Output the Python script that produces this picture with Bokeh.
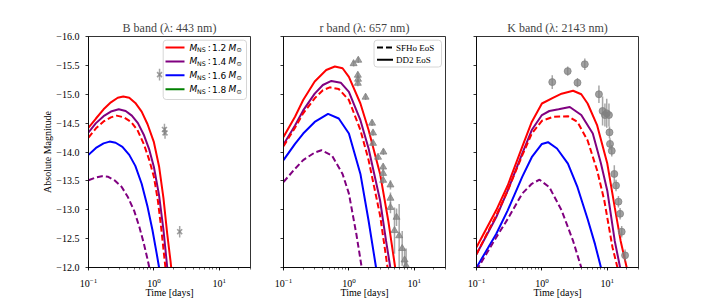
import numpy as np
from bokeh.plotting import figure
from bokeh.layouts import row
from bokeh.models import (Range1d, FixedTicker, LogTicker, CustomJSTickFormatter,
                          BoxAnnotation, Arrow, Label)
from bokeh.embed import file_html
from bokeh.resources import INLINE

# ---------------- data ----------------
TITLES = ["B band (λ: 443 nm)", "r band (λ: 657 nm)", "K band (λ: 2143 nm)"]
Y_TICKS = [-16.0, -15.5, -15.0, -14.5, -14.0, -13.5, -13.0, -12.5, -12.0]

# B band
B_DD2_12_T = [0.1, 0.13, 0.17, 0.22, 0.28, 0.34, 0.42, 0.52, 0.65, 0.8, 1.0, 1.2, 1.4, 1.6, 1.8, 2.0]
B_DD2_12_M = [-14.42, -14.58, -14.74, -14.86, -14.94, -14.96, -14.94, -14.85, -14.70, -14.48, -14.17, -13.75, -13.20, -12.58, -12.10, -11.60]
B_DD2_14_T = [0.1, 0.13, 0.17, 0.22, 0.29, 0.37, 0.46, 0.57, 0.7, 0.85, 1.0, 1.2, 1.4, 1.6, 1.75]
B_DD2_14_M = [-14.34, -14.50, -14.62, -14.70, -14.74, -14.71, -14.63, -14.50, -14.30, -14.04, -13.74, -13.25, -12.65, -12.00, -11.50]
B_DD2_16_T = [0.1, 0.13, 0.17, 0.21, 0.26, 0.33, 0.42, 0.52, 0.65, 0.8, 0.95, 1.1, 1.2, 1.3]
B_DD2_16_M = [-13.95, -14.07, -14.15, -14.18, -14.16, -14.09, -13.95, -13.76, -13.45, -13.05, -12.65, -12.25, -12.00, -11.70]
B_SFHO_12_T = [0.1, 0.13, 0.17, 0.22, 0.27, 0.35, 0.45, 0.56, 0.7, 0.85, 1.0, 1.15, 1.3, 1.5, 1.65]
B_SFHO_12_M = [-14.25, -14.41, -14.53, -14.60, -14.63, -14.60, -14.52, -14.38, -14.14, -13.86, -13.57, -13.16, -12.66, -12.00, -11.50]
B_SFHO_14_T = [0.1, 0.13, 0.16, 0.2, 0.25, 0.32, 0.4, 0.5, 0.6, 0.7, 0.8, 0.87, 0.95]
B_SFHO_14_M = [-13.51, -13.56, -13.58, -13.57, -13.51, -13.40, -13.22, -12.98, -12.70, -12.42, -12.14, -11.95, -11.70]
B_OBS_T = [1.22, 1.45, 1.48, 2.48]
B_OBS_M = [-15.34, -14.39, -14.33, -12.62]
B_OBS_E = [0.10, 0.10, 0.10, 0.10]

# r band
R_DD2_12_T = [0.1, 0.15, 0.2, 0.3, 0.45, 0.61, 0.8, 1.0, 1.5, 2.0, 3.0, 4.0, 5.1, 5.6]
R_DD2_12_M = [-14.26, -14.61, -14.90, -15.22, -15.42, -15.48, -15.45, -15.30, -14.84, -14.38, -13.62, -12.81, -12.00, -11.60]
R_DD2_14_T = [0.1, 0.15, 0.2, 0.3, 0.4, 0.54, 0.75, 1.0, 1.5, 2.0, 3.0, 3.7, 4.3, 4.8]
R_DD2_14_M = [-14.13, -14.46, -14.72, -15.01, -15.16, -15.23, -15.20, -15.04, -14.55, -14.06, -13.16, -12.46, -12.00, -11.60]
R_DD2_16_T = [0.1, 0.15, 0.2, 0.3, 0.48, 0.7, 1.0, 1.5, 2.0, 2.6, 2.9]
R_DD2_16_M = [-13.86, -14.14, -14.32, -14.52, -14.66, -14.58, -14.32, -13.62, -12.81, -12.00, -11.60]
R_SFHO_12_T = [0.1, 0.15, 0.2, 0.3, 0.4, 0.51, 0.7, 1.0, 1.5, 2.0, 3.0, 3.9, 4.4]
R_SFHO_12_M = [-14.10, -14.42, -14.67, -14.93, -15.07, -15.12, -15.09, -14.90, -14.38, -13.86, -12.90, -12.00, -11.60]
R_SFHO_14_T = [0.1, 0.15, 0.2, 0.3, 0.38, 0.55, 0.8, 1.0, 1.3, 1.57, 1.75]
R_SFHO_14_M = [-13.48, -13.71, -13.86, -13.99, -14.03, -13.94, -13.62, -13.28, -12.58, -12.00, -11.60]
R_OBS_T = [1.18, 1.39, 1.37, 1.38, 1.37, 1.80, 2.26, 2.34, 2.34, 2.79, 3.37, 3.34, 3.34, 3.34,
           4.32, 4.32, 4.32, 5.35, 4.98, 5.87, 6.53, 7.10, 7.50]
R_OBS_M = [-15.53, -15.59, -15.33, -15.26, -15.19, -14.95, -14.50, -14.33, -14.15, -13.91, -14.00, -13.74, -13.63, -13.51,
           -13.43, -13.20, -13.04, -12.87, -12.64, -12.55, -12.33, -12.13, -12.03]
R_OBS_E = [0.05, 0.05, 0.05, 0.05, 0.05, 0.05, 0.05, 0.05, 0.05, 0.05, 0.05, 0.05, 0.05, 0.06,
           0.08, 0.10, 0.10, 0.15, 0.40, 0.55, 0.30, 0.20, 0.30]

# K band
K_DD2_12_T = [0.1, 0.2, 0.3, 0.5, 0.7, 1.0, 1.5, 2.0, 3.0, 4.0, 5.0, 7.0, 10, 13, 16, 19.8, 22]
K_DD2_12_M = [-12.35, -12.99, -13.42, -14.09, -14.52, -14.84, -14.94, -15.01, -15.06, -15.00, -14.84, -14.46, -13.80, -13.04, -12.46, -12.00, -11.70]
K_DD2_14_T = [0.1, 0.2, 0.3, 0.5, 0.7, 1.0, 1.3, 1.8, 2.67, 4, 6, 8, 10, 13, 15.7, 17.5]
K_DD2_14_M = [-12.23, -12.87, -13.33, -13.97, -14.38, -14.64, -14.71, -14.74, -14.78, -14.64, -14.32, -13.80, -13.33, -12.46, -12.00, -11.60]
K_DD2_16_T = [0.1, 0.2, 0.3, 0.5, 0.7, 1.0, 1.24, 1.7, 2.5, 3.5, 5, 6.5, 8.0, 9]
K_DD2_16_M = [-12.00, -12.58, -12.99, -13.57, -13.91, -14.14, -14.17, -14.06, -13.80, -13.39, -12.84, -12.40, -12.00, -11.70]
K_SFHO_12_T = [0.1, 0.2, 0.3, 0.5, 0.7, 1.0, 1.5, 2.5, 3.5, 5, 7, 9, 12, 14.3, 16]
K_SFHO_12_M = [-12.23, -12.90, -13.33, -13.94, -14.32, -14.54, -14.61, -14.62, -14.52, -14.20, -13.68, -13.16, -12.35, -12.00, -11.60]
K_SFHO_14_T = [0.1, 0.2, 0.3, 0.5, 0.7, 0.92, 1.3, 2.0, 3.0, 4.0, 4.5]
K_SFHO_14_M = [-11.95, -12.52, -12.84, -13.28, -13.45, -13.52, -13.39, -12.99, -12.46, -12.00, -11.75]
K_OBS_T = [1.44, 2.48, 3.5, 4.53, 7.45, 8.47, 9.2, 9.8, 10.6, 10.8, 11.0, 11.7, 12.8, 13.6, 14.8, 15.7, 16.6, 18.7]
K_OBS_M = [-15.21, -15.40, -15.20, -15.52, -15.00, -14.71, -14.64, -14.67, -14.64, -14.34, -14.14, -14.02,
           -13.62, -13.42, -13.14, -12.93, -12.62, -12.21]
K_OBS_E = [0.12, 0.08, 0.08, 0.10, 0.15, 0.25, 0.20, 0.25, 0.20, 0.10, 0.10, 0.10, 0.15, 0.10, 0.10, 0.10, 0.10, 0.10]

MASS_LABELS = ["1.2", "1.4", "1.6", "1.8"]
MASS_COLORS = ["red", "purple", "blue", "green"]
EOS_LABELS = ["SFHo EoS", "DD2 EoS"]

# ---------------- styling ----------------
SERIF = "Liberation Serif"
SANS = "DejaVu Sans"
DASH = "6 3"
GRAY = "#808080"

BANDS = [
    dict(curves=[(B_DD2_12_T, B_DD2_12_M, "red", "solid"), (B_DD2_14_T, B_DD2_14_M, "purple", "solid"),
                 (B_DD2_16_T, B_DD2_16_M, "blue", "solid"), (B_SFHO_12_T, B_SFHO_12_M, "red", DASH),
                 (B_SFHO_14_T, B_SFHO_14_M, "purple", DASH)],
         obs=(B_OBS_T, B_OBS_M, B_OBS_E), marker="x", msize=7),
    dict(curves=[(R_DD2_12_T, R_DD2_12_M, "red", "solid"), (R_DD2_14_T, R_DD2_14_M, "purple", "solid"),
                 (R_DD2_16_T, R_DD2_16_M, "blue", "solid"), (R_SFHO_12_T, R_SFHO_12_M, "red", DASH),
                 (R_SFHO_14_T, R_SFHO_14_M, "purple", DASH)],
         obs=(R_OBS_T, R_OBS_M, R_OBS_E), marker="triangle", msize=7),
    dict(curves=[(K_DD2_12_T, K_DD2_12_M, "red", "solid"), (K_DD2_14_T, K_DD2_14_M, "purple", "solid"),
                 (K_DD2_16_T, K_DD2_16_M, "blue", "solid"), (K_SFHO_12_T, K_SFHO_12_M, "red", DASH),
                 (K_SFHO_14_T, K_SFHO_14_M, "purple", DASH)],
         obs=(K_OBS_T, K_OBS_M, K_OBS_E), marker="circle", msize=7),
]

FW, FH = 162, 231


def make_panel(i, left_border, right_border):
    p = figure(x_axis_type="log", x_range=Range1d(0.1, 30), y_range=Range1d(-12, -16),
               frame_width=FW, frame_height=FH,
               min_border_left=left_border, min_border_right=right_border,
               min_border_top=36, min_border_bottom=32,
               output_backend="svg", toolbar_location=None, title=TITLES[i])
    p.title.text_font = SERIF
    p.title.text_font_size = "12px"
    p.title.text_font_style = "normal"
    p.title.align = "center"
    p.title.standoff = 3
    p.background_fill_color = "white"
    p.border_fill_color = "white"
    p.outline_line_color = "black"
    p.outline_line_width = 0.8
    p.outline_line_alpha = 1.0
    p.xgrid.visible = False
    p.ygrid.visible = False

    for ax in (p.xaxis[0], p.yaxis[0]):
        ax.axis_line_color = "black"
        ax.axis_line_width = 0.8
        ax.major_tick_line_color = "black"
        ax.major_tick_line_width = 0.8
        ax.minor_tick_line_color = "black"
        ax.minor_tick_line_width = 0.6
        ax.major_tick_in = 0
        ax.major_tick_out = 3
        ax.minor_tick_in = 0
        ax.minor_tick_out = 2
        ax.major_label_text_font = SERIF
        ax.major_label_text_font_size = "10px"
        ax.major_label_text_color = "black"
        ax.axis_label_text_font = SERIF
        ax.axis_label_text_font_size = "10px"
        ax.axis_label_text_font_style = "normal"
        ax.axis_label_text_color = "black"

    p.xaxis.ticker = LogTicker(mantissas=[1], desired_num_ticks=3, num_minor_ticks=10)
    p.xaxis.axis_label = "Time [days]"
    p.xaxis.major_label_standoff = 7
    p.xaxis.axis_label_standoff = -3

    p.yaxis.ticker = FixedTicker(ticks=Y_TICKS, minor_ticks=[])
    p.yaxis.major_label_standoff = 6
    if i == 0:
        p.yaxis.formatter = CustomJSTickFormatter(
            code="return (tick < 0 ? '\u2212' : '') + Math.abs(tick).toFixed(1);")
        p.yaxis.axis_label = "Absolute Magnitude"
        p.yaxis.axis_label_standoff = 0
    else:
        p.yaxis.formatter = CustomJSTickFormatter(code="return '';")
        p.yaxis.major_label_standoff = 0

    band = BANDS[i]
    for t, m, col, dash in band["curves"]:
        p.line(t, m, line_color=col, line_width=2, line_dash=dash)

    t, m, e = (np.array(v, dtype=float) for v in band["obs"])
    p.segment(x0=t, y0=m - e, x1=t, y1=m + e, line_color=GRAY, line_width=1.5, line_alpha=0.7)
    if band["marker"] == "x":
        p.scatter(t, m, marker="x", size=band["msize"], line_color=GRAY, line_width=1.6, line_alpha=0.75)
    else:
        p.scatter(t, m, marker=band["marker"], size=band["msize"], fill_color=GRAY, fill_alpha=0.75,
                  line_color=GRAY, line_alpha=0.75)
    return p


def legend_box(p, left, right, bottom, top):
    p.add_layout(BoxAnnotation(left=left, right=right, bottom=bottom, top=top,
                               left_units="screen", right_units="screen",
                               bottom_units="screen", top_units="screen",
                               fill_color="white", fill_alpha=0.8,
                               line_color="#cccccc", line_width=0.8, line_alpha=1.0,
                               border_radius=3))


def legend_line(p, x0, x1, y, color, dash):
    p.add_layout(Arrow(end=None, x_start=x0, y_start=y, x_end=x1, y_end=y,
                       start_units="screen", end_units="screen",
                       line_color=color, line_width=2, line_dash=dash))


def legend_text(p, x, y, text, font, size, style="normal"):
    p.add_layout(Label(x=x, y=y, x_units="screen", y_units="screen", text=text,
                       text_font=font, text_font_size=size, text_font_style=style,
                       text_baseline="middle", text_align="left", text_color="black"))


p1 = make_panel(0, 88, 16)
p2 = make_panel(1, 17, 15)
p3 = make_panel(2, 16, 40)

# Legend of neutron-star masses (panel 1)
legend_box(p1, 74.7, 158, 168, 227.3)
for k, (lab, col) in enumerate(zip(MASS_LABELS, MASS_COLORS)):
    y = 220 - 13.9 * k
    legend_line(p1, 77, 96, y, col, "solid")
    x0 = 101
    legend_text(p1, x0, y, "M", SANS, "9px", "italic")
    legend_text(p1, x0 + 7.6, y - 2.4, "NS", SANS, "6.3px")
    legend_text(p1, x0 + 18.3, y, ":", SANS, "9px")
    legend_text(p1, x0 + 22.5, y, lab, SANS, "9px")
    legend_text(p1, x0 + 39, y, "M", SANS, "9px", "italic")
    legend_text(p1, x0 + 47, y - 2.4, "⊙", SANS, "6.3px")

# Legend of equations of state (panel 2)
legend_box(p2, 90.5, 158, 200.5, 227.3)
for k, (lab, dash) in enumerate(zip(EOS_LABELS, [DASH, "solid"])):
    y = 220 - 12.2 * k
    legend_line(p2, 93.5, 109.5, y, "black", dash)
    legend_text(p2, 112.5, y, lab, SERIF, "9px")

layout = row(p1, p2, p3)
open("out.html", "w").write(file_html(layout, INLINE))
